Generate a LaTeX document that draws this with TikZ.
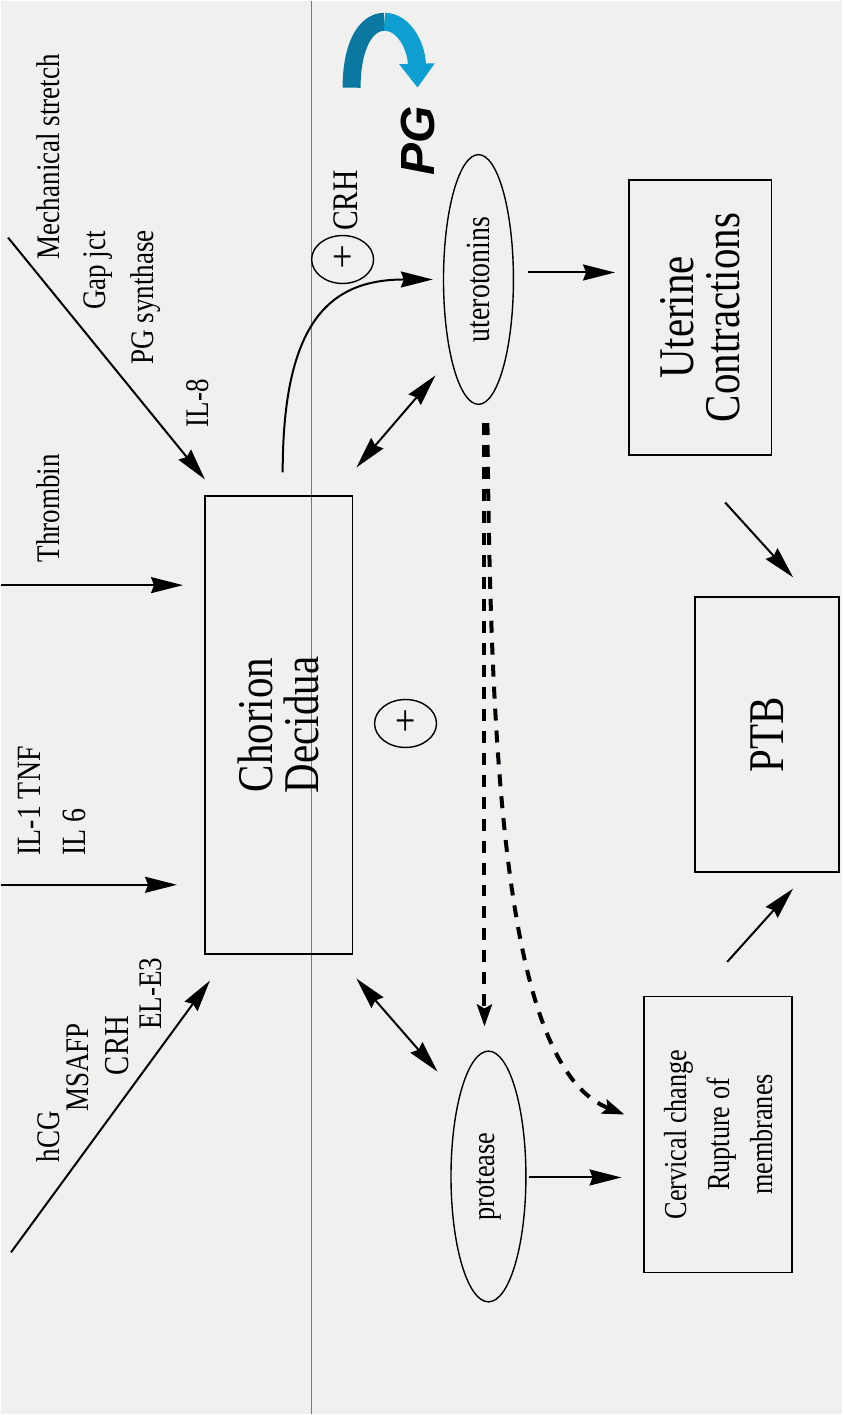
\documentclass[tikz,border=0pt]{standalone}
\usepackage{fontspec}
\setmainfont[FakeStretch=0.82]{Liberation Serif}
\newfontfamily\pgsans{Liberation Sans}
\usetikzlibrary{arrows.meta,shapes.geometric,calc}
\definecolor{paper}{RGB}{240,240,238}
\definecolor{guide}{RGB}{80,120,220}
\definecolor{pgdark}{RGB}{10,120,160}
\definecolor{pglight}{RGB}{15,158,208}

\begin{document}
\begin{tikzpicture}[x=0.5pt,y=-0.5pt,>=Stealth,
  lbl/.style={rotate=90,font=\fontsize{16.5}{22.5}\selectfont,inner sep=0pt},
  box/.style={draw,rotate=90,line width=0.8pt,align=center,font=\fontsize{25}{23}\selectfont},
  oval/.style={draw,ellipse,rotate=90,line width=0.7pt,inner sep=0pt},
  plus/.style={draw,ellipse,line width=0.7pt,minimum width=31pt,minimum height=24pt,inner sep=0pt,font=\fontsize{22}{22}\selectfont},
  arr/.style={line width=1pt,-{Stealth[length=16pt,width=8pt,inset=1.5pt]}},
  darr/.style={line width=1pt,{Stealth[length=16pt,width=8pt,inset=1.5pt]}-{Stealth[length=16pt,width=8pt,inset=1.5pt]}},
  dasharr/.style={line width=2pt,dash pattern=on 6pt off 5pt,-{Stealth[length=11pt,width=7.5pt,inset=2pt]}}]
\fill[paper] (0,0) rectangle (842,1415);
\draw[guide,line width=0.8pt] (311,0)--(311,1415);

% boxes and ovals
\node[box,minimum width=229pt,minimum height=74pt] (chor) at (278,725) {Chorion\\Decidua};
\node[box,minimum width=137.5pt,minimum height=71.5pt] (uc) at (700,317) {Uterine\\Contractions};
\node[box,minimum width=137.5pt,minimum height=72pt] (ptb) at (767,734.5) {PTB};
\node[box,minimum width=138pt,minimum height=74pt,font=\fontsize{16}{21.5}\selectfont] (cerv) at (718,1135) {Cervical change\\Rupture of\\membranes};
\node[oval,minimum width=125pt,minimum height=35pt,font=\fontsize{17}{17}\selectfont] (utero) at (478,279) {uterotonins};
\node[oval,minimum width=125.5pt,minimum height=37.5pt,font=\fontsize{16}{16}\selectfont] (prot) at (488,1177) {protease};
\node[plus] (plusa) at (342,259) {+};
\node[plus] (plusb) at (405,723.5) {+};

% labels
\foreach \n/\x/\y/\t in {mech/47/156/Mechanical stretch,gap/97/270/Gap jct,pgs/145/297/PG synthase,il8/197/403/IL-8,
  thr/47/508/Thrombin,hcg/47/1137/hCG,msafp/77/1068/MSAFP,ele3/150/994/EL-E3}
 \node[lbl] (\n) at (\x,\y) {\t};
\node[lbl,align=left,font=\fontsize{17}{22.5}\selectfont] (il1) at (51,801) {IL-1 TNF\\IL 6};
\node[lbl,font=\fontsize{17.5}{17.5}\selectfont] (crhb) at (116,1046) {CRH};
\node[lbl,font=\fontsize{18}{18}\selectfont] (crha) at (345,200) {CRH};
\node[rotate=90,inner sep=0pt,font=\pgsans\bfseries\itshape\fontsize{24}{24}\selectfont] (pg) at (417,140) {PG};

% PG curl
\draw[pgdark,line width=9pt] (351,87) .. controls (351,45) and (365,21) .. (384,21);
\draw[pglight,line width=9pt,-{Triangle[length=12pt,width=17pt]}] (384,21) .. controls (403,21) and (416,45) .. (417,87);

% inputs
\coordinate (mechfoot) at (7,237);
\coordinate (thrfoot) at (0,585);
\coordinate (il1foot) at (0,885);
\coordinate (hcgfoot) at (10,1253);
\draw[arr] (mechfoot) -- ($(chor.north east)+(1,-16)$);
\draw[arr,shorten >=10.5pt] (thrfoot) -- (thrfoot -| chor.north);
\draw[arr,shorten >=13.5pt] (il1foot) -- (il1foot -| chor.north);
\draw[arr] (hcgfoot) -- ($(chor.north west)+(6,26)$);

% links
\draw[arr] ($(chor.east)+(4,-23)$) .. controls (282,320) and (330,279) .. ($(utero.north)+(-10,0)$);
\draw[darr] ($(chor.south east)+(3,-28)$) -- ($(utero.center)+(-43,96)$);
\draw[darr] ($(chor.south west)+(3,24)$) -- ($(prot.center)+(-51,-105)$);
\draw[arr] ($(utero.south)+(14,-7)$) -- ($(uc.north)+(-13,-45)$);
\draw[arr] ($(prot.south)+(2,1)$) -- ($(cerv.north)+(-22,43)$);
\draw[arr] ($(uc.west)+(25,47)$) -- ($(ptb.east)+(26,-19)$);
\draw[arr] ($(cerv.east)+(9,-34)$) -- ($(ptb.west)+(26,16)$);
\draw[dasharr] ($(utero.west)+(6,18)$) -- ($(prot.east)+(-4,-24)$);
\draw[dasharr] ($(utero.west)+(9,18)$) .. controls (490,800) and (510,1070) .. ($(cerv.north)+(-19,-20)$);
\end{tikzpicture}
\end{document}
